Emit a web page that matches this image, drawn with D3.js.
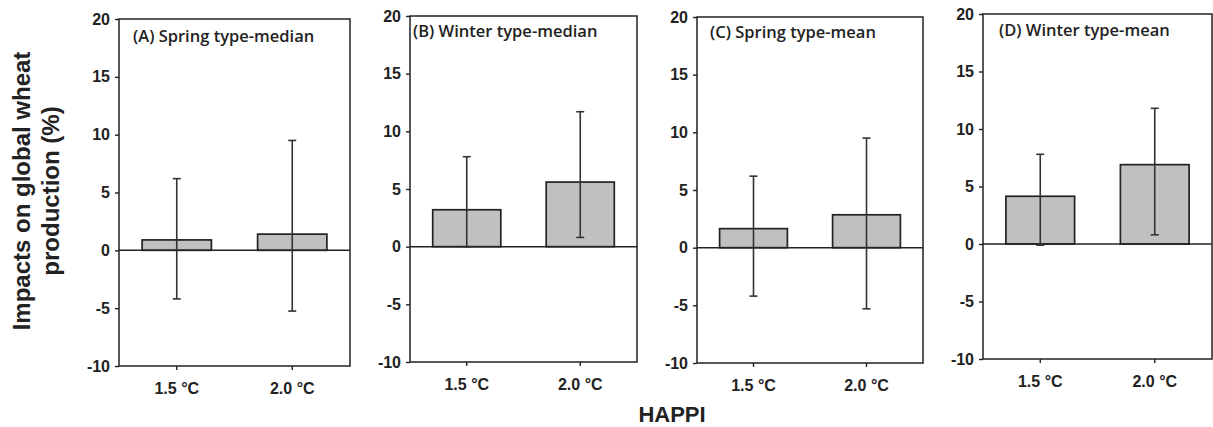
<!DOCTYPE html>
<html>
<head>
<meta charset="utf-8">
<script src="https://cdn.jsdelivr.net/npm/d3@7"></script>
<style>
  body { margin: 0; background: #fff; }
</style>
</head>
<body>
<div id="chart"></div>
<script>
// data
const categories = ['1.5 °C', '2.0 °C'];
const panelTitles = ['(A) Spring type-median', '(B) Winter type-median', '(C) Spring type-mean', '(D) Winter type-mean'];
const barValues = [[0.9, 1.4], [3.2, 5.6], [1.65, 2.85], [4.15, 6.9]];
const errLow = [[-4.2, -5.25], [0, 0.8], [-4.2, -5.3], [-0.1, 0.8]];
const errHigh = [[6.2, 9.5], [7.8, 11.7], [6.2, 9.5], [7.8, 11.8]];
const yTicks = [-10, -5, 0, 5, 10, 15, 20];

// panel boxes (left, right, top, bottom) and title offsets
const panelBox = [
  {l: 119, r: 350, t: 19, b: 366, tx: 14, ty: 23},
  {l: 410, r: 637, t: 16, b: 362, tx: 3, ty: 21},
  {l: 697, r: 923, t: 17, b: 363, tx: 13, ty: 21},
  {l: 983, r: 1212, t: 14, b: 359, tx: 16, ty: 22}
];

const W = 1213, H = 427;
const ink = '#222';
const arial = '"Liberation Sans", Arial, sans-serif';

const svg = d3.select('#chart').append('svg')
  .attr('width', W).attr('height', H);

function styleAxis(a) {
  a.select('.domain').remove();
  a.selectAll('line').attr('stroke', ink).attr('stroke-width', 1.4);
  a.selectAll('text')
    .attr('fill', ink)
    .style('font-family', arial)
    .style('font-weight', 'bold')
    .style('font-size', '16px');
}

panelBox.forEach(function(p, i) {
  const g = svg.append('g');

  const y = d3.scaleLinear().domain([-10, 20]).range([p.b, p.t]);
  const x = d3.scaleBand().domain(categories).range([p.l, p.r])
    .paddingInner(0.4).paddingOuter(0.2);

  // y axis
  g.append('g')
    .attr('transform', 'translate(' + p.l + ',0)')
    .call(d3.axisLeft(y).tickValues(yTicks).tickSize(4).tickPadding(5)
      .tickFormat(function(d) { return String(d); }))
    .call(styleAxis);

  // x axis
  g.append('g')
    .attr('transform', 'translate(0,' + p.b + ')')
    .call(d3.axisBottom(x).tickSize(4).tickPadding(13))
    .call(styleAxis);

  const rows = categories.map(function(c, j) {
    return {cat: c, v: barValues[i][j], lo: errLow[i][j], hi: errHigh[i][j]};
  });

  // bars
  g.selectAll('rect.bar')
    .data(rows)
    .enter()
    .append('rect')
    .attr('class', 'bar')
    .attr('x', function(d) { return x(d.cat); })
    .attr('width', x.bandwidth())
    .attr('y', function(d) { return y(Math.max(0, d.v)); })
    .attr('height', function(d) { return Math.abs(y(d.v) - y(0)); })
    .attr('fill', '#c0c0c0')
    .attr('stroke', ink)
    .attr('stroke-width', 1.7);

  // zero line
  g.append('line')
    .attr('x1', p.l).attr('x2', p.r)
    .attr('y1', y(0)).attr('y2', y(0))
    .attr('stroke', ink).attr('stroke-width', 1.5);

  // error bars
  const cap = 4;
  rows.forEach(function(d) {
    const cx = x(d.cat) + x.bandwidth() / 2;
    g.append('line')
      .attr('x1', cx).attr('x2', cx)
      .attr('y1', y(d.lo)).attr('y2', y(d.hi))
      .attr('stroke', '#333').attr('stroke-width', 1.6);
    [d.lo, d.hi].forEach(function(v) {
      g.append('line')
        .attr('x1', cx - cap).attr('x2', cx + cap)
        .attr('y1', y(v)).attr('y2', y(v))
        .attr('stroke', '#333').attr('stroke-width', 1.6);
    });
  });

  // frame
  g.append('rect')
    .attr('x', p.l).attr('y', p.t)
    .attr('width', p.r - p.l).attr('height', p.b - p.t)
    .attr('fill', 'none')
    .attr('stroke', ink).attr('stroke-width', 1.5);

  // panel title
  g.append('text')
    .attr('x', p.l + p.tx).attr('y', p.t + p.ty)
    .style('font-family', '"Open Sans", sans-serif')
    .style('font-size', '16.5px')
    .style('font-weight', 600)
    .attr('fill', ink)
    .text(panelTitles[i]);
});

// y axis title
const yt = svg.append('text')
  .attr('transform', 'translate(30,191) rotate(-90)')
  .attr('text-anchor', 'middle')
  .style('font-family', arial)
  .style('font-size', '24px')
  .style('font-weight', 'bold')
  .attr('fill', ink);
yt.append('tspan').attr('x', 0).attr('dy', 0).text('Impacts on global wheat');
yt.append('tspan').attr('x', 0).attr('dy', 29).text('production (%)');

// x axis title
svg.append('text')
  .attr('x', 672).attr('y', 422)
  .attr('text-anchor', 'middle')
  .style('font-family', arial)
  .style('font-size', '22px')
  .style('font-weight', 'bold')
  .attr('fill', ink)
  .text('HAPPI');
</script>
</body>
</html>
